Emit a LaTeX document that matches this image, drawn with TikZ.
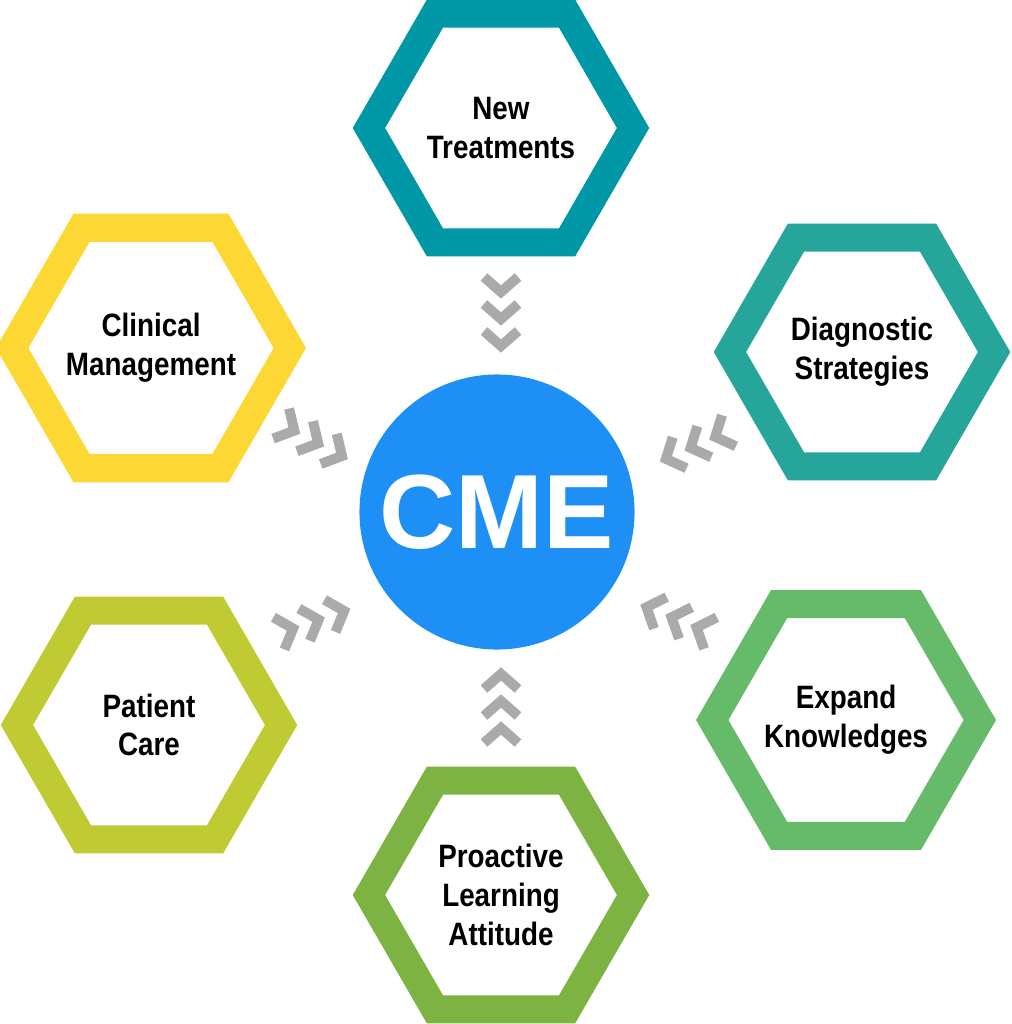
\documentclass[tikz,border=0pt]{standalone}
\usepackage{fontspec}
\newfontfamily\labelfont{Liberation Sans}[FakeStretch=0.86]
\setmainfont{Liberation Sans}
\usetikzlibrary{shapes.geometric,positioning,calc}
\definecolor{newcol}{RGB}{0,151,167}
\definecolor{clincol}{RGB}{253,216,53}
\definecolor{diagcol}{RGB}{38,166,154}
\definecolor{patcol}{RGB}{192,202,51}
\definecolor{expcol}{RGB}{102,187,106}
\definecolor{procol}{RGB}{124,179,66}
\definecolor{cmecol}{RGB}{30,144,245}
\definecolor{chevcol}{RGB}{170,170,170}

\begin{document}
\begin{tikzpicture}[x=0.01cm, y=-0.01cm,
    hexa/.style={regular polygon, regular polygon sides=6, minimum size=2.64cm,
        line width=0.28cm, fill=white, font=\labelfont\bfseries\fontsize{9.2}{11}\selectfont,
        align=center, inner sep=0pt},
    hub/.style={circle, fill=cmecol, minimum size=2.72cm, text=white,
        font=\bfseries\fontsize{30}{32}\selectfont},
    chevron/.pic={\draw[chevcol, line width=0.1cm, miter limit=4] (-0.08cm,0.17cm)--(0.07cm,0cm)--(-0.08cm,-0.17cm);}
]
\useasboundingbox (0,0) rectangle (1011,1024);

% Centre
\node[hub] (cme) at (497,512) {CME};

% Hexagons
\node[hexa, draw=newcol] (newtr) at (501,128) {New\\Treatments};
\node[hexa, draw=clincol] (clin) at (151,348) {Clinical\\Management};
\node[hexa, draw=diagcol] (diag) at (862,352) {Diagnostic\\Strategies};
\node[hexa, draw=patcol] (pat) at (149,725) {Patient\\Care};
\node[hexa, draw=expcol] (exp) at (846,720) {Expand\\Knowledges};
\node[hexa, draw=procol] (pro) at (501,895) {Proactive\\Learning\\Attitude};

% Chevron groups
\foreach \px/\py/\ang in {501/312/-90, 312/440/-28, 697/445/204, 312/622/19, 678/620/158, 501/708/90} {
    \foreach \k in {-1,0,1} {
        \path (\px,\py) ++({-1*\ang}:{27*\k}) pic[rotate=\ang] {chevron};
    }
}
\end{tikzpicture}
\end{document}
